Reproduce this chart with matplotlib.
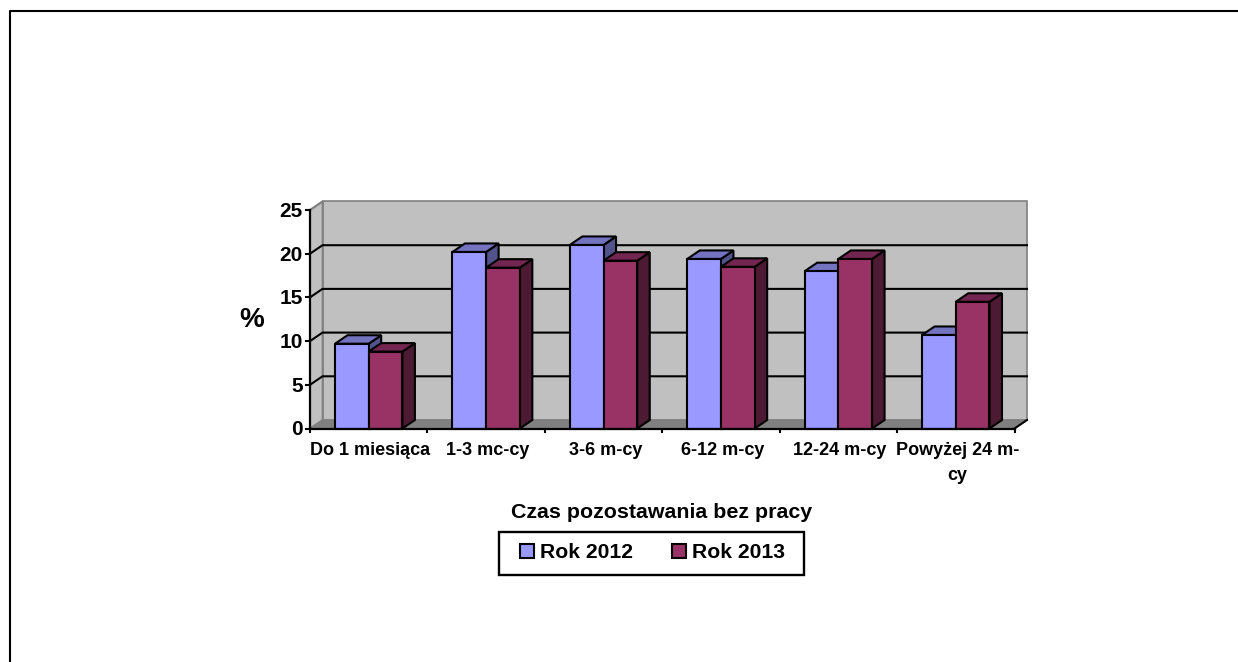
import matplotlib
matplotlib.use("Agg")
import matplotlib.pyplot as plt
from matplotlib.lines import Line2D
from matplotlib.patches import Polygon, Rectangle

plt.rcParams['font.family'] = ['Liberation Sans', 'DejaVu Sans']
plt.rcParams['font.weight'] = 'bold'

categories = ['Do 1 miesiąca', '1-3 mc-cy', '3-6 m-cy', '6-12 m-cy', '12-24 m-cy', 'Powyżej 24 m-\ncy']
rok_2012 = [9.7, 20.2, 21.0, 19.4, 18.0, 10.7]
rok_2013 = [8.8, 18.4, 19.2, 18.5, 19.4, 14.5]
y_ticks = [0, 5, 10, 15, 20, 25]

W, H = 1238, 662
fig = plt.figure(figsize=(W / 100, H / 100), dpi=100)

# page frame, only top and left are inside the picture
fig.add_artist(Line2D([10 / W, 10 / W, 1], [0, 1 - 11 / H, 1 - 11 / H], color='black', lw=1.5))

# front plane of the fake 3d box
ax = fig.add_axes([310 / W, 1 - 428.5 / H, 704.5 / W, 218.5 / H])
ax.set_xlim(0, 6)
ax.set_ylim(0, 25)
ax.axis('off')

# depth of the box in data units
dx = 12.5 / (704.5 / 6)
dy = 8.5 / (218.5 / 25)

# walls and floor
ax.add_patch(Polygon([(dx, dy), (6 + dx, dy), (6 + dx, 25 + dy), (dx, 25 + dy)], fc='#c0c0c0', ec='#808080', lw=1.2, clip_on=False, zorder=1))
ax.add_patch(Polygon([(0, 0), (dx, dy), (dx, 25 + dy), (0, 25)], fc='#c0c0c0', ec='#808080', lw=1.2, clip_on=False, zorder=1))
ax.add_patch(Polygon([(0, 0), (6, 0), (6 + dx, dy), (dx, dy)], fc='#808080', ec='#808080', lw=1, clip_on=False, zorder=1))

# gridlines
for t in y_ticks[1:-1]:
    ax.plot([0, dx, 6 + dx], [t, t + dy, t + dy], color='black', lw=1.5, clip_on=False, zorder=2)
ax.plot([0, dx], [25, 25 + dy], color='#808080', lw=1.4, clip_on=False, zorder=2)


def bar3d(x, w, h, face, top, side):
    ax.add_patch(Polygon([(x + w, 0), (x + w + dx, dy), (x + w + dx, h + dy), (x + w, h)], fc=side, ec='black', lw=1.5, clip_on=False, zorder=3))
    ax.add_patch(Polygon([(x, h), (x + dx, h + dy), (x + w + dx, h + dy), (x + w, h)], fc=top, ec='black', lw=1.5, clip_on=False, zorder=3))
    ax.add_patch(Rectangle((x, 0), w, h, fc=face, ec='black', lw=1.5, clip_on=False, zorder=3))


bar_w = 0.287
for i in range(len(categories)):
    bar3d(i + 0.213, bar_w, rok_2012[i], '#9999ff', '#7373bf', '#53538c')
    bar3d(i + 0.5, bar_w, rok_2013[i], '#993366', '#732650', '#4d1a33')

# axes lines and ticks
ax.plot([0, 0], [0, 25], color='black', lw=1.6, clip_on=False, zorder=4)
ax.plot([0, 6], [0, 0], color='black', lw=1.6, clip_on=False, zorder=4)
ax.plot([6, 6 + dx], [0, dy], color='black', lw=1.5, clip_on=False, zorder=4)
for t in y_ticks:
    ax.plot([-0.03, 0], [t, t], color='black', lw=1.5, clip_on=False, zorder=4)
    ax.text(-0.06, t - 0.15, str(t), ha='right', va='center', fontsize=15)
for i in range(7):
    ax.plot([i, i], [0, -0.45], color='black', lw=1.5, clip_on=False, zorder=4)
for i, name in enumerate(categories):
    ax.text(i + 0.515, -1.6, name, ha='center', va='top', fontsize=13, linespacing=1.6)

fig.text(252 / W, 1 - 320 / H, '%', ha='center', va='center', fontsize=20)
fig.text(662 / W, 1 - 513 / H, 'Czas pozostawania bez pracy', ha='center', va='center', fontsize=15.4)

# legend box
fig.add_artist(Rectangle((499 / W, 1 - 575 / H), 305 / W, 43 / H, transform=fig.transFigure, fc='white', ec='black', lw=1.7))
fig.add_artist(Rectangle((520 / W, 1 - 558 / H), 14 / W, 14 / H, transform=fig.transFigure, fc='#9999ff', ec='black', lw=1.5))
fig.add_artist(Rectangle((672 / W, 1 - 558 / H), 14 / W, 14 / H, transform=fig.transFigure, fc='#993366', ec='black', lw=1.5))
fig.text(540 / W, 1 - 552 / H, 'Rok 2012', ha='left', va='center', fontsize=15.2)
fig.text(692 / W, 1 - 552 / H, 'Rok 2013', ha='left', va='center', fontsize=15.2)

fig.savefig('out.png', dpi=100, facecolor='white')
